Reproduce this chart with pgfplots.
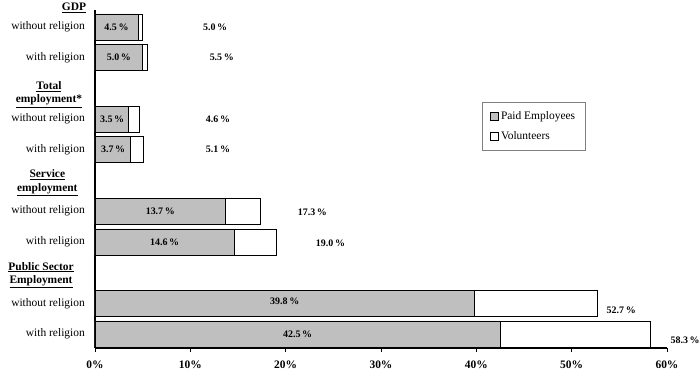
\documentclass[border=0pt]{standalone}
\usepackage{pgfplots}
\pgfplotsset{compat=1.18}
\usepackage{fontspec}
\setmainfont{Liberation Serif}
\tikzset{vlab/.style={font=\bfseries\fontsize{10}{12}\selectfont},
  hdr/.style={font=\bfseries\fontsize{11.5}{13.5}\selectfont, align=center, inner sep=0pt}}
\begin{document}
\fontsize{11.5}{13}\selectfont
\begin{tikzpicture}
\useasboundingbox (-95bp,-28bp) rectangle (605bp,348bp);
\begin{axis}[
  at={(0,0)}, anchor=south west,
  scale only axis, width=572bp, height=338bp,
  xbar stacked, bar width=26bp,
  xmin=0, xmax=60, ymin=-0.456, ymax=10.55,
  axis lines=left, axis line style={-, line width=1.1pt},
  clip=false,
  xtick={0,10,20,30,40,50,60},
  xticklabel={\textbf{\pgfmathprintnumber[assume math mode=true]{\tick}\%}},
  xticklabel style={yshift=-5bp},
  tick align=outside, major tick length=4bp,
  x tick style={black, line width=0.8pt},
  ytick={0,1,3,4,6,7,9,10},
  yticklabels={with religion, without religion, with religion, without religion, with religion, without religion, with religion, without religion},
  y tick style={draw=none},
  yticklabel style={inner sep=0pt, xshift=-6bp},
  legend style={at={(0.677,0.728)}, anchor=north west, draw=gray, line width=0.4pt,
    row sep=7pt, inner xsep=8pt, inner ysep=7pt, cells={anchor=west}},
  legend image code/.code={\draw[#1, line width=0.6pt] (0bp,-4bp) rectangle (8bp,4bp);},
]
\addplot[fill=black!25, draw=black, line width=0.6pt] coordinates {(42.5,0) (39.8,1) (14.6,3) (13.7,4) (3.7,6) (3.5,7) (5.0,9) (4.5,10)};
\addplot[fill=white, draw=black, line width=0.6pt] coordinates {(15.8,0) (12.9,1) (4.4,3) (3.6,4) (1.4,6) (1.1,7) (0.5,9) (0.5,10)};
\legend{Paid Employees, Volunteers}
\coordinate (i0) at (axis cs:21.25,0);
\coordinate (i1) at (axis cs:19.9,1.08);
\coordinate (i3) at (axis cs:7.3,3);
\coordinate (i4) at (axis cs:6.85,4);
\coordinate (i6) at (axis cs:1.9,6);
\coordinate (i7) at (axis cs:1.8,7);
\coordinate (i9) at (axis cs:2.5,9);
\coordinate (i10) at (axis cs:2.25,10);
\node[vlab] at (axis cs:61.9,-0.2) {58.3\,\%};
\node[vlab] at (axis cs:55.2,0.78) {52.7\,\%};
\node[vlab] at (axis cs:24.7,2.95) {19.0\,\%};
\node[vlab] at (axis cs:22.8,3.95) {17.3\,\%};
\node[vlab] at (axis cs:12.9,6) {5.1\,\%};
\node[vlab] at (axis cs:12.9,7) {4.6\,\%};
\node[vlab] at (axis cs:13.3,9) {5.5\,\%};
\node[vlab] at (axis cs:12.6,10) {5.0\,\%};
\node[hdr] at (axis cs:-2.2,10.62) {\underline{GDP}};
\node[hdr] at (axis cs:-4.83,7.80) {\underline{Total}\\\underline{employment*}};
\node[hdr] at (axis cs:-5.0,4.92) {\underline{Service}\\\underline{employment}};
\node[hdr] at (axis cs:-5.66,1.92) {\underline{Public Sector}\\\underline{Employment}};
\end{axis}
\node[vlab] at (i0) {42.5\,\%};
\node[vlab] at (i1) {39.8\,\%};
\node[vlab] at (i3) {14.6\,\%};
\node[vlab] at (i4) {13.7\,\%};
\node[vlab] at (i6) {3.7\,\%};
\node[vlab] at (i7) {3.5\,\%};
\node[vlab] at (i9) {5.0\,\%};
\node[vlab] at (i10) {4.5\,\%};
\end{tikzpicture}
\end{document}
